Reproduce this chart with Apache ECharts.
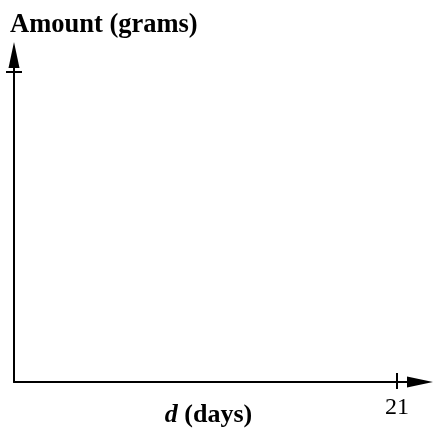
<!DOCTYPE html>
<html>
<head>
<meta charset="utf-8">
<script src="https://cdn.jsdelivr.net/npm/echarts@6/dist/echarts.min.js"></script>
<style>
html,body{margin:0;padding:0;background:#fff;overflow:hidden;}
#c{width:433px;height:429px;}
</style>
</head>
<body>
<div id="c"></div>
<script>
// Chart content
var xAxisTitleItalic = 'd';
var xAxisTitleRest = '(days)';
var yAxisTitle = 'Amount (grams)';
var xTickValues = [21];
var xTickLabels = ['21'];
var yTickValues = [10];
var xRange = [0, 22.26];
var yRange = [0, 10.55];
var seriesValues = [];

var chart = echarts.init(document.getElementById('c'), null, {renderer: 'canvas'});
var serif = '"Liberation Serif", "Times New Roman", serif';
var lineColor = '#000';

var arrowAxisLine = {
  show: true,
  lineStyle: {color: lineColor, width: 2},
  symbol: ['none', 'triangle'],
  symbolSize: [11, 26]
};

chart.setOption({
  animation: false,
  backgroundColor: '#fff',
  grid: {left: 14, right: 13, top: 55, bottom: 47, containLabel: false, outerBoundsMode: 'none'},
  xAxis: [{
    type: 'value', min: xRange[0], max: xRange[1], position: 'bottom',
    axisLine: arrowAxisLine,
    axisTick: {show: true, inside: false, length: 7, lineStyle: {color: lineColor, width: 2}, customValues: xTickValues},
    axisLabel: {show: true, customValues: xTickValues, formatter: function (v) {
      var i = xTickValues.indexOf(v); return i >= 0 ? xTickLabels[i] : '';
    }, color: '#000', fontFamily: serif, fontSize: 24, margin: 14},
    splitLine: {show: false},
    name: '{i|' + xAxisTitleItalic + '} {b|' + xAxisTitleRest + '}',
    nameLocation: 'middle', nameGap: 20, nameMoveOverlap: false,
    nameTextStyle: {
      color: '#000', fontFamily: serif, fontSize: 26, fontWeight: 'bold',
      padding: [0, 17, 0, 0],
      rich: {
        i: {fontFamily: serif, fontSize: 26, fontWeight: 'bold', fontStyle: 'italic', color: '#000'},
        b: {fontFamily: serif, fontSize: 26, fontWeight: 'bold', color: '#000'}
      }
    }
  }, {
    type: 'value', min: xRange[0], max: xRange[1], position: 'bottom',
    axisLine: {show: false},
    axisTick: {show: true, inside: true, length: 9, lineStyle: {color: lineColor, width: 2}, customValues: xTickValues},
    axisLabel: {show: false},
    splitLine: {show: false}
  }],
  yAxis: [{
    type: 'value', min: yRange[0], max: yRange[1], position: 'left',
    axisLine: arrowAxisLine,
    axisTick: {show: true, inside: false, length: 8, lineStyle: {color: lineColor, width: 2}, customValues: yTickValues},
    axisLabel: {show: false},
    splitLine: {show: false},
    name: yAxisTitle, nameLocation: 'end', nameGap: 16, nameMoveOverlap: false,
    nameTextStyle: {
      color: '#000', fontFamily: serif, fontSize: 26.5, fontWeight: 'bold',
      align: 'left', padding: [0, 0, 0, -4]
    }
  }, {
    type: 'value', min: yRange[0], max: yRange[1], position: 'left',
    axisLine: {show: false},
    axisTick: {show: true, inside: true, length: 8, lineStyle: {color: lineColor, width: 2}, customValues: yTickValues},
    axisLabel: {show: false},
    splitLine: {show: false}
  }],
  series: [{type: 'line', data: seriesValues, xAxisIndex: 0, yAxisIndex: 0}]
});
</script>
</body>
</html>
